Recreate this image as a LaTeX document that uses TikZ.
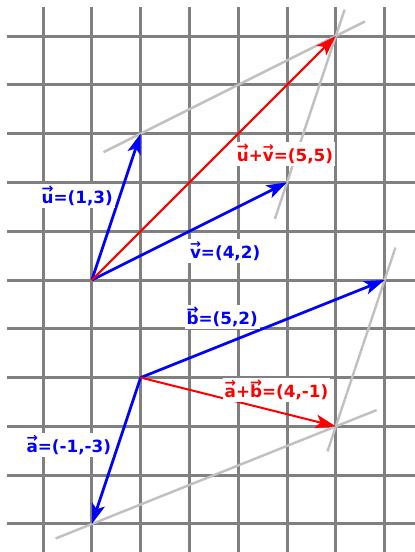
\documentclass[tikz,border=0pt]{standalone}
\usepackage{fontspec}
\usepackage{graphicx}
\setmainfont{DejaVu Sans}
\usetikzlibrary{arrows.meta}
\definecolor{vecblue}{RGB}{0,0,255}
\definecolor{vecred}{RGB}{255,0,0}
\definecolor{gridgray}{RGB}{128,128,128}
\definecolor{guidegray}{RGB}{192,192,192}
\newcommand{\vlet}[1]{\setbox0=\hbox{#1}\leavevmode\rlap{\raisebox{0.62em}{\resizebox{\wd0}{!}{→}}}\box0}

\begin{document}
\begin{tikzpicture}[
    gridline/.style={draw=gridgray, line width=1.75pt},
    guide/.style={draw=guidegray, line width=1.4pt},
    vecarrow/.style={line width=1.6pt, -{Stealth[length=0.42cm, width=0.28cm, inset=0.1cm]}},
    bluevec/.style={vecarrow, draw=vecblue, fill=vecblue},
    redvec/.style={vecarrow, draw=vecred, fill=vecred, line width=1.2pt},
    veclabel/.style={fill=white, inner sep=1pt, anchor=base west, font=\fontsize{9.8}{11}\selectfont\bfseries}
]
\useasboundingbox (-0.882,-0.574) rectangle (7.610,10.738);
\fill[white] (-0.882,-0.574) rectangle (7.610,10.738);

% Grid
\foreach \x in {0,...,7}
    \draw[gridline] (\x,-0.6) -- (\x,10.585);
\foreach \y in {0,...,10}
    \draw[gridline] (-0.74,\y) -- (7.7,\y);

% Points (upper sum u+v, lower sum a+b)
\coordinate (O1) at (1,5);
\coordinate (U) at (2,8);
\coordinate (V) at (5,7);
\coordinate (UV) at (6,10);
\coordinate (O2) at (2,3);
\coordinate (A) at (1,0);
\coordinate (B) at (7,5);
\coordinate (AB) at (6,2);

% Parallelogram guides
\draw[guide, shorten <=-0.85cm, shorten >=-0.67cm] (U) -- (UV);
\draw[guide, shorten <=-0.79cm, shorten >=-0.57cm] (V) -- (UV);
\draw[guide, shorten <=-0.8cm, shorten >=-0.9cm] (A) -- (AB);
\draw[guide, shorten <=-0.7cm, shorten >=-0.54cm] (B) -- (AB);

% Vectors
\draw[bluevec] (O1) -- (U);
\draw[bluevec] (O1) -- (V);
\draw[redvec] (O1) -- (UV);
\draw[bluevec] (O2) -- (B);
\draw[bluevec] (O2) -- (A);
\draw[redvec] (O2) -- (AB);

% Labels
\node[veclabel, text=vecblue] (ulab) at (-0.07,6.56) {\vlet{u}=(1,3)};
\node[veclabel, text=vecblue] (vlab) at (2.97,5.44) {\vlet{v}=(4,2)};
\node[veclabel, text=vecred] (uvlab) at (3.93,7.43) {\vlet{u}+\vlet{v}=(5,5)};
\node[veclabel, text=vecblue] (blab) at (2.9,4.08) {\vlet{b}=(5,2)};
\node[veclabel, text=vecred] (ablab) at (3.68,2.59) {\vlet{a}+\vlet{b}=(4,-1)};
\node[veclabel, text=vecblue] (alab) at (-0.38,1.46) {\vlet{a}=(-1,-3)};

\end{tikzpicture}
\end{document}
